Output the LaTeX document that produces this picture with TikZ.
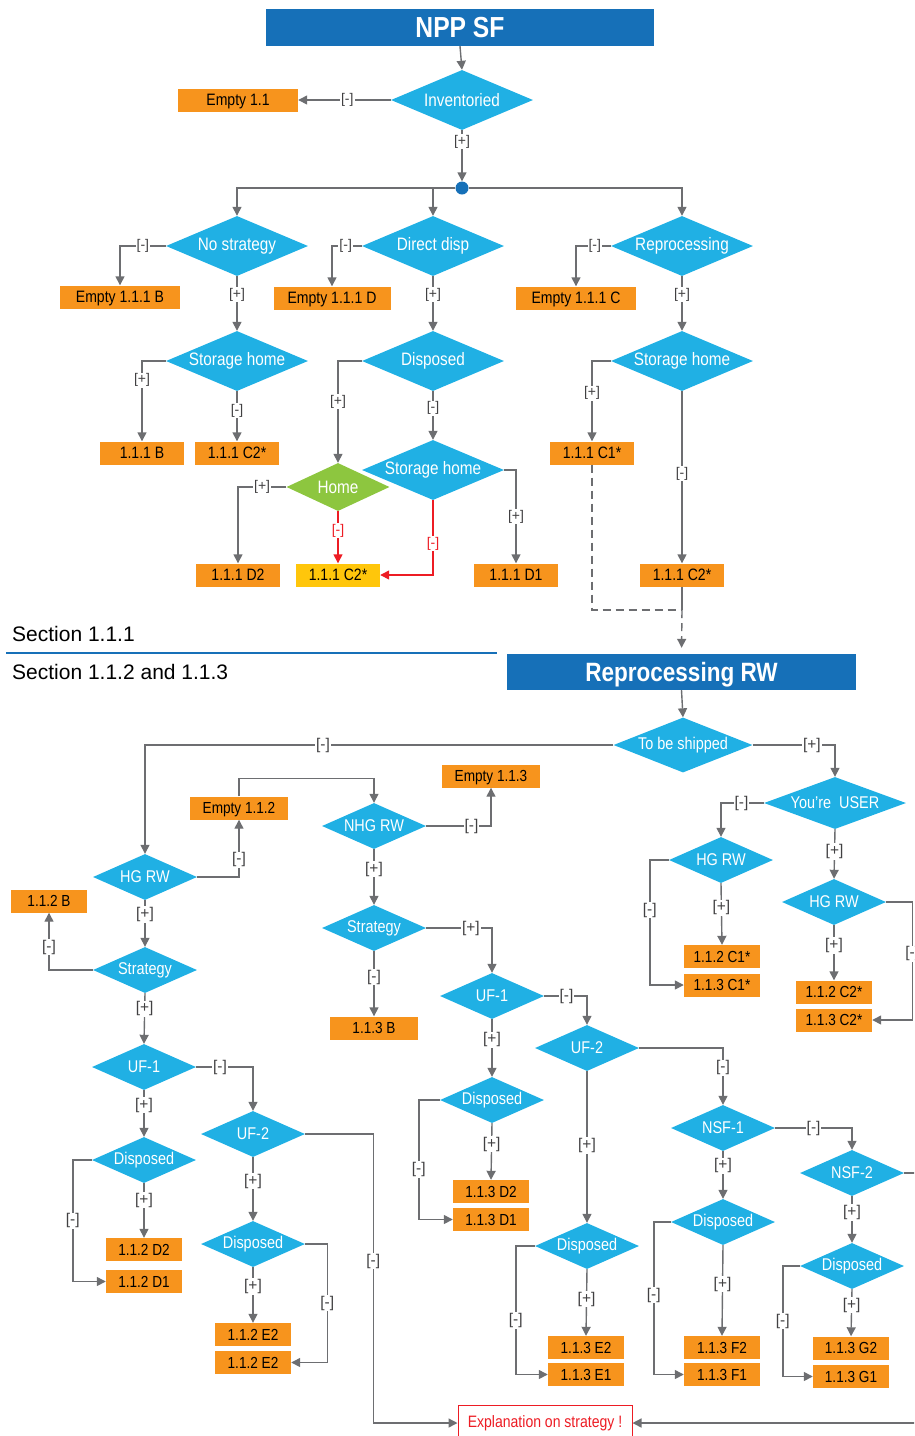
\documentclass[tikz,border=0pt]{standalone}
\usepackage{fontspec}
\setmainfont{Liberation Sans}
\newfontfamily\condB{Liberation Sans}[FakeStretch=0.85]
\usetikzlibrary{shapes.geometric,arrows.meta}
\definecolor{hdrblue}{HTML}{1670B8}
\definecolor{diablue}{HTML}{20B0E4}
\definecolor{boxorange}{HTML}{F7941D}
\definecolor{homegreen}{HTML}{8DC63F}
\definecolor{boxyellow}{HTML}{FFC60B}
\definecolor{linegray}{HTML}{6D6E71}
\definecolor{lblgray}{HTML}{414042}
\definecolor{warnred}{HTML}{ED1C24}

\begin{document}
\begin{tikzpicture}
[
    x=1pt, y=-1pt,
    conn/.style={draw=linegray, line width=1.4pt},
    arr/.style={conn, -{Triangle[length=9pt,width=9pt]}},
    redarr/.style={draw=warnred, line width=1.4pt, -{Triangle[length=9pt,width=9pt]}},
    dashconn/.style={conn, dash pattern=on 8pt off 5pt},
    lbl/.style={fill=white, inner sep=1pt, text=lblgray, font=\fontsize{14}{14}\selectfont},
    rlbl/.style={lbl, text=warnred},
    lowlbl/.style={lbl, font=\fontsize{15.5}{15.5}\selectfont},
    hdr/.style={rectangle, fill=hdrblue, text=white, inner sep=0pt, text depth=0pt},
    dia/.style={diamond, fill=diablue, text=white, inner sep=0pt, shape aspect=2.3},
    topdia/.style={dia, minimum width=142pt, minimum height=60pt, font=\condB\fontsize{18}{18}\selectfont},
    homedia/.style={topdia, fill=homegreen, minimum width=103pt, minimum height=48pt},
    lowdia/.style={dia, minimum width=104pt, minimum height=46pt, font=\condB\fontsize{17}{17}\selectfont},
    box/.style={rectangle, fill=boxorange, text=black, inner sep=0pt, minimum height=23pt, text depth=0pt},
    topbox/.style={box, minimum width=84pt, font=\condB\fontsize{16.5}{16.5}\selectfont},
    lowbox/.style={box, minimum width=76pt, font=\condB\fontsize{16}{16}\selectfont},
    hub/.style={circle, fill=hdrblue, inner sep=0pt, minimum size=13pt},
    sect/.style={anchor=west, inner sep=0pt, font=\fontsize{21}{21}\selectfont},
    expl/.style={rectangle, draw=warnred, line width=1pt, fill=white, text=warnred,
        minimum width=174pt, minimum height=36pt, font=\condB\fontsize{16.5}{16.5}\selectfont},
]
\useasboundingbox (0,0) rectangle (914,1436);
\clip (0,0) rectangle (914,1436);

% section 1.1.1
\node[hdr, minimum width=388pt, minimum height=37pt, font=\condB\bfseries\fontsize{29}{29}\selectfont] (npp) at (460,27.5) {NPP SF};
\node[topdia] (inv) at (462,100) {Inventoried};
\node[topbox, minimum width=120pt] (e11) at (238,100) {Empty 1.1};
\node[hub] (hub) at (462,188) {};
\node[topdia] (nostr) at (237,246) {No strategy};
\node[topdia] (ddisp) at (433,246) {Direct disp};
\node[topdia] (repr) at (682,246) {Reprocessing};
\node[topbox, minimum width=120pt] (e111b) at (120,297) {Empty 1.1.1 B};
\node[topbox, minimum width=117pt] (e111d) at (332,298) {Empty 1.1.1 D};
\node[topbox, minimum width=120pt] (e111c) at (576,298) {Empty 1.1.1 C};
\node[topdia] (shl) at (237,361) {Storage home};
\node[topbox] (b111) at (142,453) {1.1.1 B};
\node[topbox] (c2l) at (237,453) {1.1.1 C2*};
\node[topdia] (disp) at (433,361) {Disposed};
\node[topdia] (shm) at (433,470) {Storage home};
\node[homedia] (home) at (338,487) {Home};
\node[topbox] (d2) at (238,575) {1.1.1 D2};
\node[topbox, fill=boxyellow] (c2y) at (338,575) {1.1.1 C2*};
\node[topbox] (d1) at (516,575) {1.1.1 D1};
\node[topdia] (shr) at (682,361) {Storage home};
\node[topbox] (c1) at (592,453) {1.1.1 C1*};
\node[topbox] (c2r) at (682,575) {1.1.1 C2*};
\coordinate (jn) at (682,610);

\draw[arr] (npp.south) -- (inv.north);
\draw[arr] (inv.west) -- node[lbl, pos=0.47] {[-]} (e11.east);
\draw[arr] (inv.south) -- node[lbl, pos=0.23] {[+]} (hub.north);
\draw[arr] (hub.west) -| (nostr.north);
\draw[arr] (hub.west) -| (ddisp.north);
\draw[arr] (hub.east) -| (repr.north);
\draw[arr] (nostr.west) -| node[lbl, pos=0.25] {[-]} (e111b.north);
\draw[arr] (ddisp.west) -| node[lbl, pos=0.27] {[-]} (e111d.north);
\draw[arr] (repr.west) -| node[lbl, pos=0.23] {[-]} (e111c.north);
\draw[arr] (nostr.south) -- node[lbl, pos=0.34] {[+]} (shl.north);
\draw[arr] (ddisp.south) -- node[lbl, pos=0.34] {[+]} (disp.north);
\draw[arr] (repr.south) -- node[lbl, pos=0.34] {[+]} (shr.north);
\draw[arr] (shl.west) -| node[lbl, pos=0.62] {[+]} (b111.north);
\draw[arr] (shl.south) -- node[lbl, pos=0.39] {[-]} (c2l.north);
\draw[arr] (disp.west) -| node[lbl, pos=0.7] {[+]} (home.north);
\draw[arr] (disp.south) -- node[lbl, pos=0.35] {[-]} (shm.north);
\draw[arr] (shm.east) -| node[lbl, pos=0.75] {[+]} (d1.north);
\draw[redarr] (shm.south) |- node[rlbl, pos=0.29] {[-]} (c2y.east);
\draw[arr] (home.west) -| node[lbl, pos=0.25] {[+]} (d2.north);
\draw[redarr] (home.south) -- node[rlbl, pos=0.37] {[-]} (c2y.north);
\draw[arr] (shr.west) -| node[lbl, pos=0.7] {[+]} (c1.north);
\draw[arr] (shr.south) -- node[lbl, pos=0.48] {[-]} (c2r.north);
\draw[dashconn] (c1.south) |- (jn);
\draw[conn] (c2r.south) -- (jn);

% section divider
\node[sect] (s1) at (12,634) {Section 1.1.1};
\node[sect] (s2) at (12,672) {Section 1.1.2 and 1.1.3};
\draw[hdrblue, line width=1.3pt] (6,653) -- (497,653);

% section 1.1.2 and 1.1.3
\node[hdr, minimum width=349pt, minimum height=36pt, font=\condB\bfseries\fontsize{26.5}{26.5}\selectfont] (rrw) at (681.5,672) {Reprocessing RW};
\draw[arr, dash pattern=on 8pt off 5pt, shorten >=6pt] (jn) -- (rrw.north);
\node[lowdia, minimum width=139pt, minimum height=53pt] (ship) at (683,745) {To be shipped};
\node[lowdia] (hgl) at (145,877) {HG RW};
\node[lowbox, minimum width=98pt] (e112) at (239,808) {Empty 1.1.2};
\node[lowdia] (nhg) at (374,826) {NHG RW};
\node[lowbox, minimum width=98pt] (e113) at (491,776) {Empty 1.1.3};
\node[lowdia] (strm) at (374,928) {Strategy};
\node[lowbox, minimum width=88pt] (b113) at (374,1028) {1.1.3 B};
\node[lowbox] (b112) at (49,901) {1.1.2 B};
\node[lowdia] (strl) at (145,970) {Strategy};
\node[lowdia] (uf1l) at (144,1067) {UF-1};
\node[lowdia] (dspl) at (144,1160) {Disposed};
\node[lowbox] (d2a) at (144,1249.5) {1.1.2 D2};
\node[lowbox] (d1a) at (144,1281.5) {1.1.2 D1};
\node[lowdia] (uf2l) at (253,1134) {UF-2};
\node[lowdia] (dspl2) at (253,1244) {Disposed};
\node[lowbox] (e2a) at (253,1334.5) {1.1.2 E2};
\node[lowbox] (e2b) at (253,1362.5) {1.1.2 E2};
\node[expl] (expl) at (545,1423) {Explanation on strategy !};
\node[lowdia] (uf1m) at (492,996) {UF-1};
\node[lowdia] (dspm) at (492,1100) {Disposed};
\node[lowbox] (d2b) at (491,1191.5) {1.1.3 D2};
\node[lowbox] (d1b) at (491,1219.5) {1.1.3 D1};
\node[lowdia] (uf2m) at (587,1048) {UF-2};
\node[lowdia] (dspm2) at (587,1246) {Disposed};
\node[lowbox] (e2c) at (586,1347.5) {1.1.3 E2};
\node[lowbox] (e1c) at (586,1374.5) {1.1.3 E1};
\node[lowdia] (nsf1) at (723,1128) {NSF-1};
\node[lowdia] (dspn1) at (723,1222) {Disposed};
\node[lowbox] (f2) at (722,1347.5) {1.1.3 F2};
\node[lowbox] (f1) at (722,1374.5) {1.1.3 F1};
\node[lowdia] (nsf2) at (852,1173) {NSF-2};
\node[lowdia] (dspn2) at (852,1266) {Disposed};
\node[lowbox] (g2) at (851,1348) {1.1.3 G2};
\node[lowbox] (g1) at (851,1376.5) {1.1.3 G1};
\node[lowdia, minimum width=142pt, minimum height=52pt] (user) at (835,803) {You’re~~USER};
\node[lowdia] (hgr1) at (721,860) {HG RW};
\node[lowbox] (c1a) at (722,956.5) {1.1.2 C1*};
\node[lowbox] (c1b) at (722,985) {1.1.3 C1*};
\node[lowdia] (hgr2) at (834,902) {HG RW};
\node[lowbox] (c2a) at (834,992) {1.1.2 C2*};
\node[lowbox] (c2b) at (834,1020) {1.1.3 C2*};

\draw[arr] (rrw.south) -- (ship.north);
\draw[arr] (ship.west) -| node[lowlbl, pos=0.31] {[-]} (hgl.north);
\draw[arr] (ship.east) -| node[lowlbl, pos=0.36] {[+]} (user.north);
\draw[arr] (hgl.east) -| node[lowlbl, pos=0.65] {[-]} (e112.south);
\draw[arr] (e112.north) -- ++(0,-18) -| (nhg.north);
\draw[arr] (nhg.east) -| node[lowlbl, pos=0.35] {[-]} (e113.south);
\draw[arr] (nhg.south) -- node[lowlbl, pos=0.36] {[+]} (strm.north);
\draw[arr] (strm.south) -- node[lowlbl, pos=0.4] {[-]} (b113.north);
\draw[arr] (strm.east) -| node[lowlbl, pos=0.34] {[+]} (uf1m.north);
\draw[arr] (hgl.south) -- node[lowlbl, pos=0.31] {[+]} (strl.north);
\draw[arr] (strl.west) -| node[lowlbl, pos=0.7] {[-]} (b112.south);
\draw[arr] (strl.south) -- node[lowlbl, pos=0.31] {[+]} (uf1l.north);
\draw[arr] (uf1l.east) -| node[lowlbl, pos=0.21] {[-]} (uf2l.north);
\draw[arr] (uf1l.south) -- node[lowlbl, pos=0.32] {[+]} (dspl.north);
\draw[arr] (dspl.south) -- node[lowlbl, pos=0.31] {[+]} (d2a.north);
\draw[arr] (dspl.west) -- ++(-19,0) |- node[lowlbl, pos=0.25] {[-]} (d1a.west);
\draw[arr] (uf2l.south) -- node[lowlbl, pos=0.375] {[+]} (dspl2.north);
\draw[arr] (uf2l.east) -- ++(68,0) |- node[lowlbl, pos=0.22] {[-]} (expl.west);
\draw[arr] (dspl2.south) -- node[lowlbl, pos=0.35] {[+]} (e2a.north);
\draw[arr] (dspl2.east) -- ++(22,0) |- node[lowlbl, pos=0.25] {[-]} (e2b.east);
\draw[arr] (uf1m.east) -| node[lowlbl, pos=0.26] {[-]} (uf2m.north);
\draw[arr] (uf1m.south) -- node[lowlbl, pos=0.36] {[+]} (dspm.north);
\draw[arr] (dspm.south) -- node[lowlbl, pos=0.37] {[+]} (d2b.north);
\draw[arr] (dspm.west) -- ++(-21,0) |- node[lowlbl, pos=0.29] {[-]} (d1b.west);
\draw[arr] (uf2m.south) -- node[lowlbl, pos=0.49] {[+]} (dspm2.north);
\draw[arr] (uf2m.east) -| node[lowlbl, pos=0.675] {[-]} (nsf1.north);
\draw[arr] (dspm2.south) -- node[lowlbl, pos=0.45] {[+]} (e2c.north);
\draw[arr] (dspm2.west) -- ++(-19,0) |- node[lowlbl, pos=0.29] {[-]} (e1c.west);
\draw[arr] (nsf1.east) -| node[lowlbl, pos=0.25] {[-]} (nsf2.north);
\draw[arr] (nsf1.south) -- node[lowlbl, pos=0.31] {[+]} (dspn1.north);
\draw[arr] (dspn1.south) -- node[lowlbl, pos=0.43] {[+]} (f2.north);
\draw[arr] (dspn1.west) -- ++(-17,0) |- node[lowlbl, pos=0.24] {[-]} (f1.west);
\draw[arr] (nsf2.south) -- node[lowlbl, pos=0.35] {[+]} (dspn2.north);
\draw[arr] (nsf2.east) -- ++(31,0) |- (expl.east);
\draw[arr] (dspn2.south) -- node[lowlbl, pos=0.34] {[+]} (g2.north);
\draw[arr] (dspn2.west) -- ++(-17,0) |- node[lowlbl, pos=0.25] {[-]} (g1.west);
\draw[arr] (user.west) -| node[lowlbl, pos=0.26] {[-]} (hgr1.north);
\draw[arr] (user.south) -- node[lowlbl, pos=0.45] {[+]} (hgr2.north);
\draw[arr] (hgr1.south) -- node[lowlbl, pos=0.4] {[+]} (c1a.north);
\draw[arr] (hgr1.west) -- ++(-19,0) |- node[lowlbl, pos=0.2] {[-]} (c1b.west);
\draw[arr] (hgr2.south) -- node[lowlbl, pos=0.37] {[+]} (c2a.north);
\draw[arr] (hgr2.east) -- ++(26,0) |- node[lowlbl, pos=0.22] {[-]} (c2b.east);
\end{tikzpicture}
\end{document}
